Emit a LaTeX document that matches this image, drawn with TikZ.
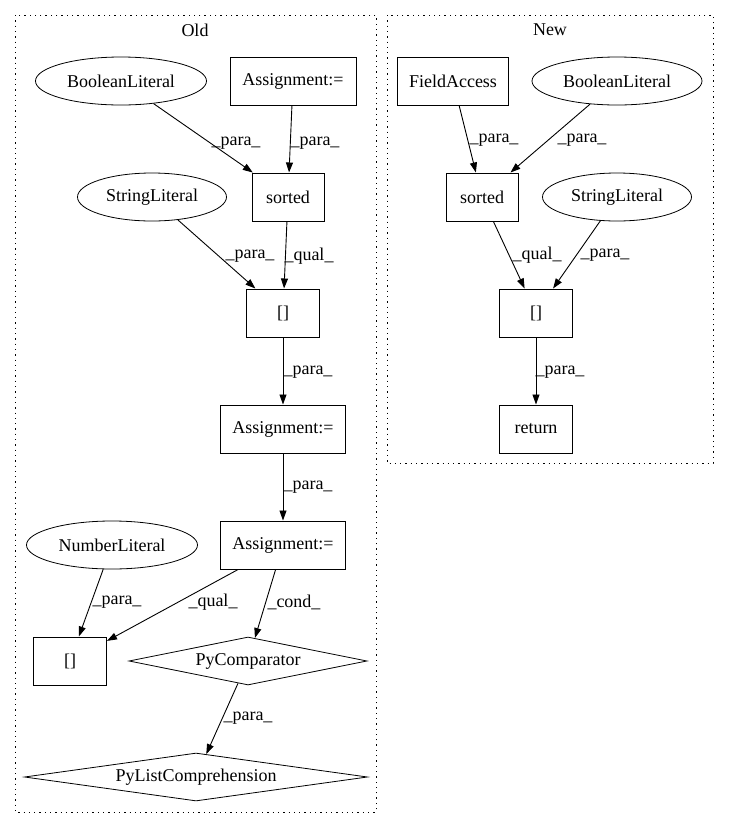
\documentclass[tikz,border=0pt]{standalone}
\usepackage{fontspec}
\setmainfont{Liberation Serif}
\usetikzlibrary{shapes.geometric,arrows.meta}
\begin{document}
\begin{tikzpicture}[x=1pt,y=-1pt,
  every node/.style={font=\fontsize{18}{20}\selectfont},
  box/.style={draw,line width=1pt,rectangle,inner sep=0pt},
  oval/.style={draw,line width=0.8pt,ellipse,inner sep=0pt},
  dia/.style={draw,line width=0.8pt,diamond,inner sep=0pt},
  lbl/.style={inner sep=0pt},
  edge/.style={draw,line width=0.9pt,-{Triangle[length=10pt,width=7pt]}},
  cluster/.style={draw,line width=0.9pt,dash pattern=on 1.3pt off 4pt}
]
\useasboundingbox (0,0) rectangle (729,828);
% clusters
\draw[cluster] (15,15) rectangle (376,812);
\draw[cluster] (387,15) rectangle (713,463);
\node[lbl] (oldt) at (195,30) {Old};
\node[lbl] (newt) at (550,30) {New};
% Old nodes
\node[oval,minimum width=171,minimum height=48] (ob) at (121,81) {BooleanLiteral};
\node[box,minimum width=126,minimum height=48] (oa1) at (293,81) {Assignment:=};
\node[box,minimum width=72,minimum height=48] (os) at (288,197) {sorted};
\node[oval,minimum width=149,minimum height=48] (ostr) at (152,197) {StringLiteral};
\node[box,minimum width=73,minimum height=48] (oi) at (283,313) {[]};
\node[box,minimum width=125,minimum height=48] (oa2) at (283,429) {Assignment:=};
\node[box,minimum width=125,minimum height=48] (oa3) at (283,545) {Assignment:=};
\node[oval,minimum width=171,minimum height=48] (on) at (112,545) {NumberLiteral};
\node[box,minimum width=73,minimum height=48] (oi2) at (70,661) {[]};
\node[dia,shape aspect=5,minimum width=238,minimum height=48] (opc) at (248,661) {PyComparator};
\node[dia,shape aspect=7,minimum width=343,minimum height=48] (opl) at (196,777) {PyListComprehension};
% Old edges
\draw[edge] (ob) -- (os);
\draw[edge] (oa1) -- (os);
\draw[edge] (ostr) -- (oi);
\draw[edge] (os) -- (oi);
\draw[edge] (oi) -- (oa2);
\draw[edge] (oa2) -- (oa3);
\draw[edge] (on) -- (oi2);
\draw[edge] (oa3) -- (oi2);
\draw[edge] (oa3) -- (opc);
\draw[edge] (opc) -- (opl);
% Old labels
\node[lbl] (l1) at (236,143) {\_para\_};
\node[lbl] (l2) at (315,143) {\_para\_};
\node[lbl] (l3) at (250,256) {\_para\_};
\node[lbl] (l4) at (309,256) {\_qual\_};
\node[lbl] (l5) at (308,372) {\_para\_};
\node[lbl] (l6) at (308,487) {\_para\_};
\node[lbl] (l7) at (117,602) {\_para\_};
\node[lbl] (l8) at (213,602) {\_qual\_};
\node[lbl] (l9) at (294,602) {\_cond\_};
\node[lbl] (l10) at (248,718) {\_para\_};
% New nodes
\node[box,minimum width=111,minimum height=48] (nf) at (453,81) {FieldAccess};
\node[oval,minimum width=170,minimum height=48] (nb) at (617,81) {BooleanLiteral};
\node[box,minimum width=72,minimum height=48] (ns) at (482,197) {sorted};
\node[oval,minimum width=149,minimum height=48] (nstr) at (617,197) {StringLiteral};
\node[box,minimum width=73,minimum height=48] (ni) at (536,313) {[]};
\node[box,minimum width=73,minimum height=48] (nr) at (536,429) {return};
% New edges
\draw[edge] (nf) -- (ns);
\draw[edge] (nb) -- (ns);
\draw[edge] (ns) -- (ni);
\draw[edge] (nstr) -- (ni);
\draw[edge] (ni) -- (nr);
% New labels
\node[lbl] (m1) at (494,140) {\_para\_};
\node[lbl] (m2) at (582,140) {\_para\_};
\node[lbl] (m3) at (537,255) {\_qual\_};
\node[lbl] (m4) at (605,255) {\_para\_};
\node[lbl] (m5) at (560,372) {\_para\_};
\end{tikzpicture}
\end{document}
